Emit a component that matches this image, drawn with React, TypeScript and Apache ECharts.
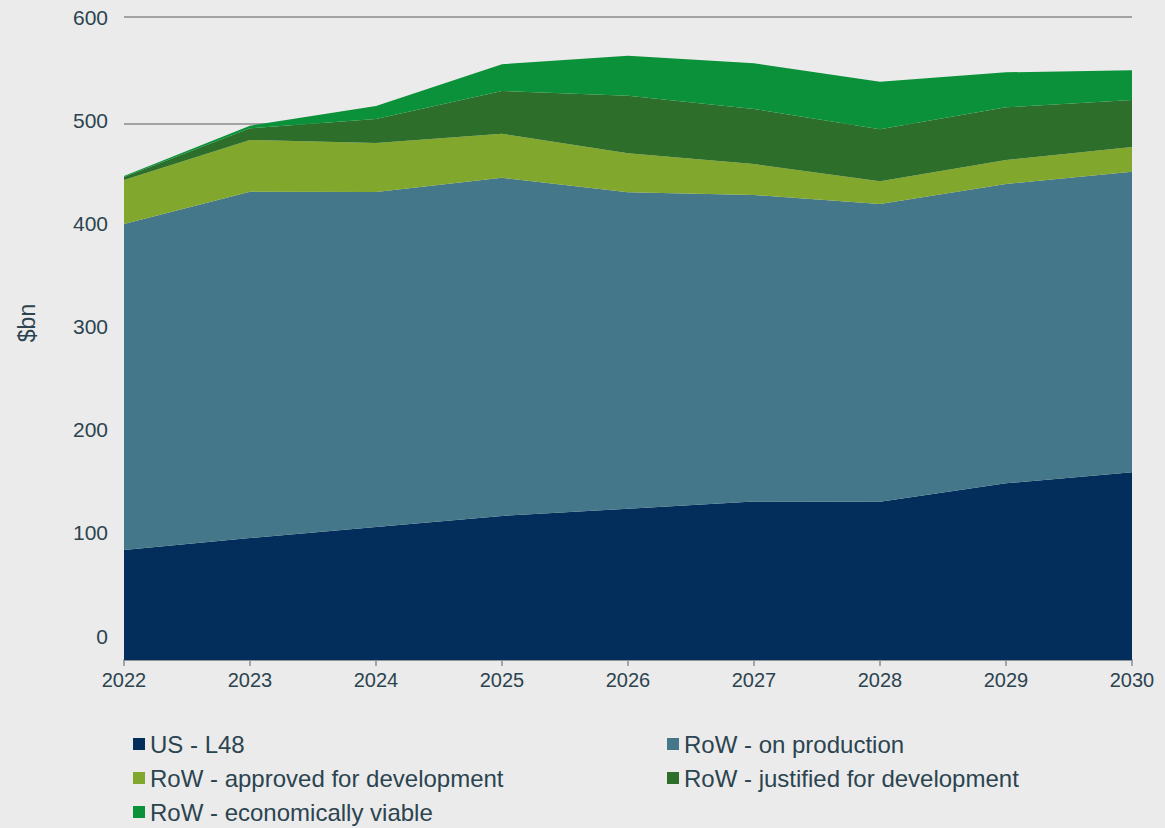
import React, { useEffect, useRef } from "react";
import * as echarts from "echarts";

const years = ["2022", "2023", "2024", "2025", "2026", "2027", "2028", "2029", "2030"];
const usL48 = [102.6, 113.8, 124.2, 134.4, 141.2, 147.9, 147.7, 164.9, 175.1];
const rowOnProduction = [304.2, 323.2, 312.5, 315.6, 295.2, 286.0, 277.8, 279.3, 280.5];
const rowApproved = [41.1, 48.2, 45.7, 41.1, 36.4, 28.9, 21.2, 22.4, 23.1];
const rowJustified = [2.8, 10.9, 22.4, 39.8, 53.8, 51.4, 48.5, 49.1, 43.8];
const rowViable = [0.9, 2.5, 12.1, 25.0, 37.3, 42.6, 44.4, 32.7, 27.8];
const yTickLabels = [0, 100, 200, 300, 400, 500, 600];

const seriesNames = [
  "US - L48",
  "RoW - on production",
  "RoW - approved for development",
  "RoW - justified for development",
  "RoW - economically viable",
];
const colors = ["#032d5a", "#437789", "#82a72d", "#2c6e2a", "#0a9139"];
const values = [usL48, rowOnProduction, rowApproved, rowJustified, rowViable];

const textColor = "#2b4450";
const font = "'Liberation Sans', Arial, sans-serif";

export default function App() {
  const ref = useRef<HTMLDivElement>(null);
  useEffect(() => {
    if (!ref.current) return;
    const chart = echarts.init(ref.current, undefined, { renderer: "svg" });
    const legendCommon = {
      orient: "vertical",
      icon: "rect",
      itemWidth: 12,
      itemHeight: 12,
      itemGap: 10,
      padding: 0,
      height: 120,
      textStyle: { color: textColor, fontSize: 24, fontFamily: font, lineHeight: 24 },
    };
    chart.setOption({
      animation: false,
      backgroundColor: "#ebebeb",
      textStyle: { fontFamily: font },
      grid: { left: 124, right: 33, top: 17, bottom: 168, containLabel: false },
      xAxis: {
        type: "category",
        data: years,
        boundaryGap: false,
        axisLine: { lineStyle: { color: "#8a8f94", width: 1.5 } },
        axisTick: { length: 6, lineStyle: { color: "#8a8f94", width: 1.5 } },
        axisLabel: { color: textColor, fontSize: 20, margin: 10, fontFamily: font },
      },
      yAxis: [
        {
          type: "value",
          min: 0,
          max: 600,
          interval: 100,
          axisLine: { show: false },
          axisTick: { show: false },
          axisLabel: { show: false },
          splitLine: { lineStyle: { color: "#8a8a8a", width: 1.5 } },
        },
        {
          type: "value",
          position: "left",
          min: -23.26,
          max: 600,
          axisLine: { show: false },
          axisTick: { show: false },
          splitLine: { show: false },
          axisLabel: {
            customValues: yTickLabels,
            color: textColor,
            fontSize: 21,
            margin: 16,
            fontFamily: font,
          },
          name: "$bn",
          nameLocation: "middle",
          nameRotate: 90,
          nameGap: 86,
          nameTextStyle: {
            color: textColor,
            fontSize: 23,
            fontFamily: font,
            padding: [0, 0, 0, 31],
          },
        },
      ],
      legend: [
        {
          ...legendCommon,
          left: 133,
          top: 732,
          data: [seriesNames[0], seriesNames[2], seriesNames[4]],
        },
        {
          ...legendCommon,
          left: 667,
          top: 732,
          data: [seriesNames[1], seriesNames[3]],
        },
      ],
      series: seriesNames.map((name, i) => ({
        name,
        type: "line",
        stack: "total",
        data: values[i],
        yAxisIndex: 0,
        symbol: "none",
        lineStyle: { width: 0 },
        itemStyle: { color: colors[i] },
        areaStyle: { color: colors[i], opacity: 1 },
      })),
    });
    return () => chart.dispose();
  }, []);
  return <div ref={ref} style={{ width: 1165, height: 828, position: "absolute", left: 0, top: 0 }} />;
}
